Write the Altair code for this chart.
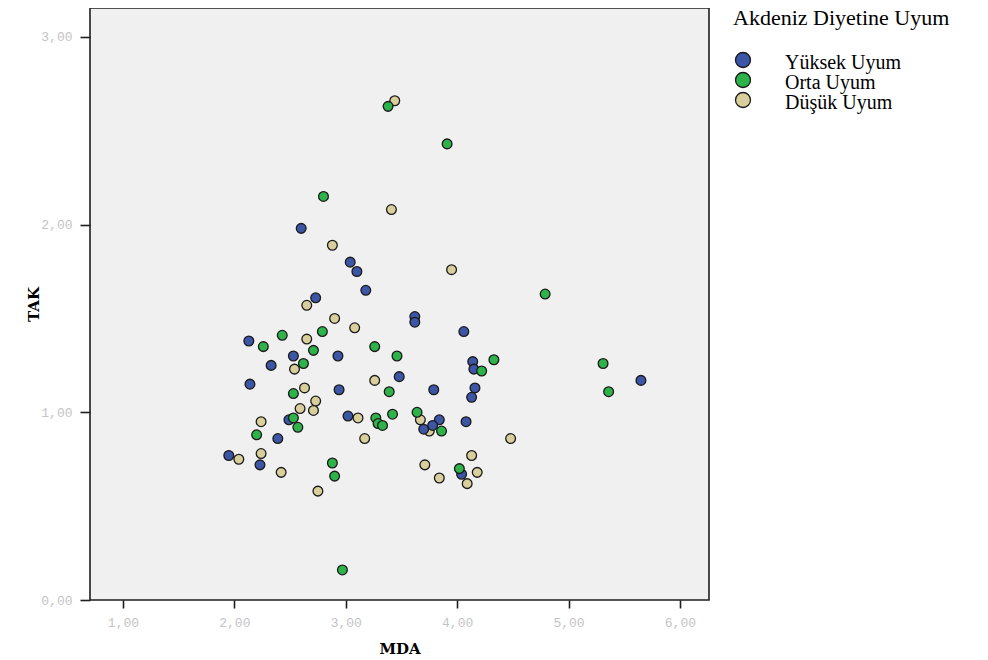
import altair as alt
import pandas as pd

groups = ["Yüksek Uyum", "Orta Uyum", "Düşük Uyum"]
colors = ["#3c55a5", "#2db34a", "#d8cf9c"]

# Yüksek Uyum (blue)
blue_x = [2.60, 3.04, 3.10, 3.18, 2.73, 3.62, 3.62, 2.13, 2.53, 2.93, 2.33, 3.48, 2.14, 2.94, 3.79,
          4.06, 4.14, 4.15, 4.16, 4.13, 5.65, 3.02, 2.49, 3.84, 4.08, 3.70, 3.78, 2.39, 1.95, 2.23, 4.04]
blue_y = [1.98, 1.80, 1.75, 1.65, 1.61, 1.51, 1.48, 1.38, 1.30, 1.30, 1.25, 1.19, 1.15, 1.12, 1.12,
          1.43, 1.27, 1.23, 1.13, 1.08, 1.17, 0.98, 0.96, 0.96, 0.95, 0.91, 0.93, 0.86, 0.77, 0.72, 0.67]

# Orta Uyum (green)
green_x = [3.38, 3.91, 2.80, 4.79, 2.79, 2.43, 2.26, 2.71, 3.26, 3.46, 2.62, 4.33, 4.22, 5.31, 5.36,
           3.39, 2.53, 2.53, 2.57, 2.20, 3.27, 3.29, 3.33, 3.42, 3.64, 3.86, 2.88, 2.90, 2.97, 4.02]
green_y = [2.63, 2.43, 2.15, 1.63, 1.43, 1.41, 1.35, 1.33, 1.35, 1.30, 1.26, 1.28, 1.22, 1.26, 1.11,
           1.11, 1.10, 0.97, 0.92, 0.88, 0.97, 0.94, 0.93, 0.99, 1.00, 0.90, 0.73, 0.66, 0.16, 0.70]

# Düşük Uyum (tan)
tan_x = [3.44, 3.41, 2.88, 3.95, 2.65, 2.90, 3.08, 2.65, 2.54, 3.26, 2.63, 2.73, 2.59, 2.71, 2.24,
         3.11, 3.17, 3.67, 3.75, 4.48, 2.04, 2.24, 2.42, 2.75, 3.71, 3.84, 4.13, 4.18, 4.09]
tan_y = [2.66, 2.08, 1.89, 1.76, 1.57, 1.50, 1.45, 1.39, 1.23, 1.17, 1.13, 1.06, 1.02, 1.01, 0.95,
         0.97, 0.86, 0.96, 0.90, 0.86, 0.75, 0.78, 0.68, 0.58, 0.72, 0.65, 0.77, 0.68, 0.62]

x_ticks = [1, 2, 3, 4, 5, 6]
y_ticks = [0, 1, 2, 3]

rows = []
order = 0
for g, xs, ys in [(groups[2], tan_x, tan_y), (groups[0], blue_x, blue_y), (groups[1], green_x, green_y)]:
    for xv, yv in zip(xs, ys):
        rows.append({"MDA": xv, "TAK": yv, "grup": g, "ord": order})
        order += 1
df = pd.DataFrame(rows)

label_expr = "replace(format(datum.value, '.2f'), '.', ',')"
# circle drawn slightly above the legend row centre (as in the reference legend)
legend_symbol = "M-1,-0.4A1,1,0,1,1,1,-0.4A1,1,0,1,1,-1,-0.4Z"

chart = alt.Chart(df).mark_circle(
    size=95, opacity=1, stroke="#1a1a1a", strokeWidth=1.3
).encode(
    x=alt.X("MDA:Q",
            scale=alt.Scale(domain=[0.704, 6.261], nice=False, zero=False),
            axis=alt.Axis(values=x_ticks, labelExpr=label_expr, title="MDA",
                          tickSize=8, labelPadding=8, titleY=48, titleX=309.5,
                          titleBaseline="middle", titleAlign="center")),
    y=alt.Y("TAK:Q",
            scale=alt.Scale(domain=[0, 3.154], nice=False, zero=False),
            axis=alt.Axis(values=y_ticks, labelExpr=label_expr, title="TAK",
                          tickSize=10, labelPadding=8, titleX=-57, titleY=296,
                          titleAngle=270, titleBaseline="middle", titleAlign="center")),
    color=alt.Color("grup:N",
                    scale=alt.Scale(domain=groups, range=colors),
                    legend=alt.Legend(
                        title="Akdeniz Diyetine Uyum", orient="none",
                        legendX=643, legendY=0,
                        titleFont="Liberation Serif", titleFontSize=22,
                        titleFontWeight="normal", titleColor="black",
                        titlePadding=23, titleLimit=400,
                        labelFont="Liberation Serif", labelFontSize=20,
                        labelColor="black", labelOffset=32, labelBaseline="middle",
                        labelLimit=300,
                        symbolType=legend_symbol, symbolSize=225,
                        symbolStrokeColor="#1a1a1a", symbolStrokeWidth=1.3,
                        symbolOpacity=1, rowPadding=-4, padding=0)),
    order=alt.Order("ord:Q"),
).properties(
    width=619, height=592,
    background="white",
    autosize=alt.AutoSizeParams(type="none"),
    padding={"left": 82, "top": 0, "right": 271, "bottom": 60},
).configure_view(
    fill="#f0f0f0", stroke="#1e1e1e", strokeWidth=1.6
).configure_axis(
    domain=False, grid=False,
    tickColor="#1e1e1e", tickWidth=1.6,
    labelFont="Liberation Mono", labelFontSize=13, labelColor="#c4c4c4",
    labelFlush=False, labelOverlap=False,
    titleFont="DejaVu Serif", titleFontWeight="bold", titleFontSize=15, titleColor="black",
)

chart.save("out.html", embed_options={"renderer": "svg", "actions": False})
